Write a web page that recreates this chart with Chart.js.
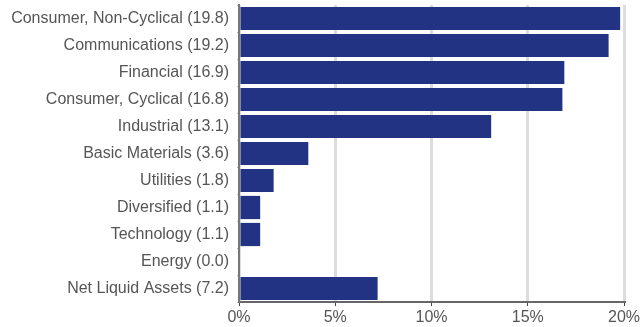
<!DOCTYPE html>
<html>
<head>
<meta charset="utf-8">
<script src="https://cdn.jsdelivr.net/npm/chart.js@4/dist/chart.umd.min.js"></script>
<style>
  html, body { margin: 0; padding: 0; background: #ffffff; }
  #wrap { width: 640px; height: 327px; }
</style>
</head>
<body>
<div id="wrap"><canvas id="c" width="640" height="327"></canvas></div>
<script>
// Sector weights (% of portfolio)
const sectors = [
  "Consumer, Non-Cyclical",
  "Communications",
  "Financial",
  "Consumer, Cyclical",
  "Industrial",
  "Basic Materials",
  "Utilities",
  "Diversified",
  "Technology",
  "Energy",
  "Net Liquid Assets"
];
const weights = [19.8, 19.2, 16.9, 16.8, 13.1, 3.6, 1.8, 1.1, 1.1, 0.0, 7.2];
const xTicks = [0, 5, 10, 15, 20];

const labels = sectors.map((s, i) => s + " (" + weights[i].toFixed(1) + ")");
const font = { family: "'Liberation Sans', Arial, sans-serif", size: 16 };

new Chart(document.getElementById("c"), {
  type: "bar",
  data: {
    labels: labels,
    datasets: [{
      data: weights,
      backgroundColor: "#223383",
      borderWidth: 0,
      categoryPercentage: 0.86,
      barPercentage: 1.0
    }]
  },
  options: {
    indexAxis: "y",
    responsive: false,
    animation: false,
    layout: { padding: { top: 5, right: 16, bottom: 0, left: 0 } },
    plugins: { legend: { display: false }, tooltip: { enabled: false } },
    scales: {
      x: {
        min: 0,
        max: 20,
        afterBuildTicks: (axis) => { axis.ticks = xTicks.map(v => ({ value: v })); },
        ticks: {
          callback: (v) => v + "%",
          color: "#555555",
          font: font,
          padding: 2
        },
        grid: {
          color: "#dcdcdc",
          lineWidth: 3,
          tickColor: "#444444",
          tickLength: 4,
          tickWidth: 1
        },
        border: { color: "#666666", width: 2 },
        afterFit: (axis) => { axis.height = 25; axis.paddingLeft = 0; axis.paddingRight = 0; }
      },
      y: {
        ticks: {
          color: "#555555",
          font: font,
          padding: 8
        },
        grid: {
          drawOnChartArea: false,
          color: "#bbbbbb",
          tickLength: 2
        },
        border: { color: "#777777", width: 2 },
        afterFit: (axis) => { axis.width = 239; axis.paddingTop = 0; axis.paddingBottom = 0; }
      }
    }
  }
});
</script>
</body>
</html>
